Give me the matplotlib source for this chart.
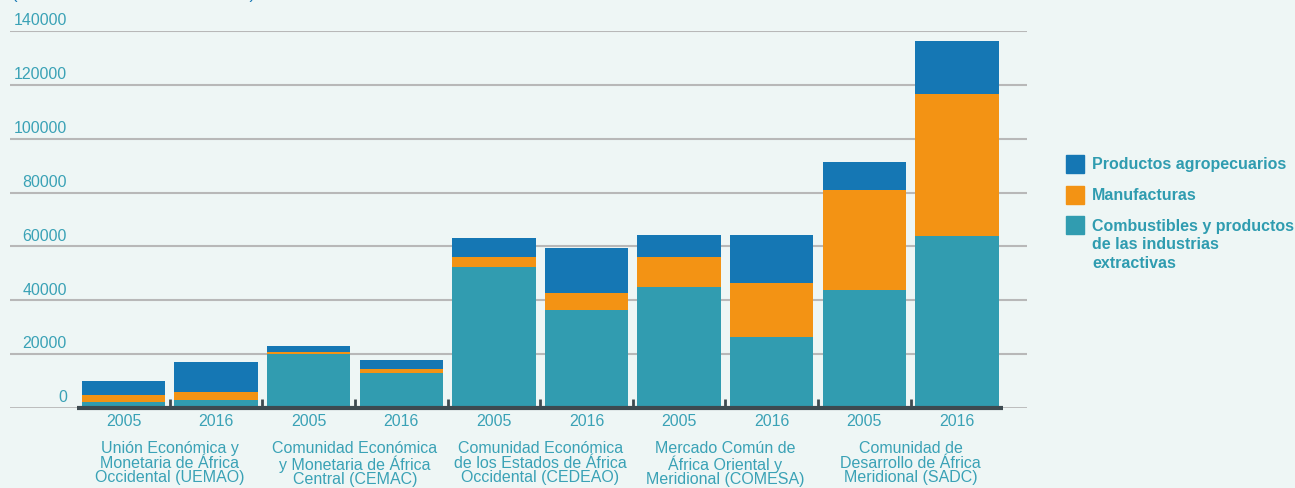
import matplotlib
matplotlib.use("Agg")
import matplotlib.pyplot as plt
from matplotlib.patches import Rectangle
import matplotlib.transforms as mtransforms

plt.rcParams["font.family"] = ["Liberation Sans", "DejaVu Sans"]

years = ["2005", "2016"] * 5
groups = [
    "Unión Económica y\nMonetaria de África\nOccidental (UEMAO)",
    "Comunidad Económica\ny Monetaria de África\nCentral (CEMAC)",
    "Comunidad Económica\nde los Estados de África\nOccidental (CEDEAO)",
    "Mercado Común de\nÁfrica Oriental y\nMeridional (COMESA)",
    "Comunidad de\nDesarrollo de África\nMeridional (SADC)",
]
combustibles = [2200, 3000, 20000, 13000, 52200, 36300, 44800, 26300, 43700, 63700]
manufacturas = [2600, 2900, 700, 1400, 3700, 6300, 11100, 20000, 37400, 53000]
agropecuarios = [5200, 11100, 2300, 3400, 7400, 16700, 8500, 18100, 10400, 19600]
yticks = [0, 20000, 40000, 60000, 80000, 100000, 120000, 140000]
legend_labels = ["Productos agropecuarios", "Manufacturas",
                 "Combustibles y productos\nde las industrias\nextractivas"]

BG = "#eef6f5"
TEAL = "#319cb0"
ORANGE = "#f39314"
BLUE = "#1577b4"
TXT = "#3aa2b6"

fig = plt.figure(figsize=(12.95, 4.88), dpi=100, facecolor=BG)
ax = fig.add_axes([10 / 1295, 80 / 488, 1017 / 1295, 377 / 488])
ax.set_facecolor(BG)
ax.set_xlim(-1.226, 9.757)
ax.set_ylim(0, 140000)
ax.axis("off")

# grid lines + value labels sitting on them
for v in yticks[1:]:
    ax.axhline(v, color="#b8b8b8", lw=1.5, zorder=0)
    ax.annotate(str(v), xy=(0.056, v), xycoords=("axes fraction", "data"),
                xytext=(0, 2), textcoords="offset points",
                ha="right", va="bottom", color=TXT, fontsize=11.5)
ax.annotate("0", xy=(0.056, 0), xycoords=("axes fraction", "data"),
            xytext=(0, 2.5), textcoords="offset points",
            ha="right", va="bottom", color=TXT, fontsize=11.5)

x = list(range(len(years)))
w = 0.9
ax.bar(x, combustibles, w, color=TEAL, zorder=2)
ax.bar(x, manufacturas, w, bottom=combustibles, color=ORANGE, zorder=2)
bot3 = [a + b for a, b in zip(combustibles, manufacturas)]
ax.bar(x, agropecuarios, w, bottom=bot3, color=BLUE, zorder=2)

# baseline and separators
ax.axhline(0, color="#b8b8b8", lw=2, zorder=1)
ax.plot([-0.5, 9.5], [0, 0], color="#3d4a50", lw=3, zorder=3,
        solid_capstyle="butt", clip_on=False)
for i in range(len(years) - 1):
    ax.plot([i + 0.5, i + 0.5], [0, 3300], color="#3d4a50", lw=2,
            zorder=3, solid_capstyle="butt")

# x labels
trans = mtransforms.blended_transform_factory(ax.transData, fig.transFigure)
for i, y in enumerate(years):
    ax.text(i, 1 - 421 / 488, y, transform=trans, ha="center", va="center",
            color=TXT, fontsize=11.5)
for j, g in enumerate(groups):
    ax.text(2 * j + 0.5, 1 - 441 / 488, g, transform=trans, ha="center",
            va="top", color=TXT, fontsize=11.5, linespacing=0.96)

# title (cut off at top, as in the source)
fig.text(0.009, 1 + 0.5 / 488, "(Millones de dólares de EE. UU.)", color=BLUE,
         fontsize=12, ha="left", va="baseline")

# legend
leg_cols = [BLUE, ORANGE, TEAL]
leg_y = [164, 194.5, 225]
for c, yy, lab in zip(leg_cols, leg_y, legend_labels):
    fig.patches.append(Rectangle((1066 / 1295, 1 - (yy + 9) / 488), 18 / 1295, 18 / 488,
                                 transform=fig.transFigure, color=c))
    fig.text(1092 / 1295, 1 - (yy - 6.5) / 488, lab, ha="left", va="top",
             color="#2f9cb0", fontsize=11.5, fontweight="bold", linespacing=1.3)

fig.savefig("out.png", dpi=100, facecolor=BG)
